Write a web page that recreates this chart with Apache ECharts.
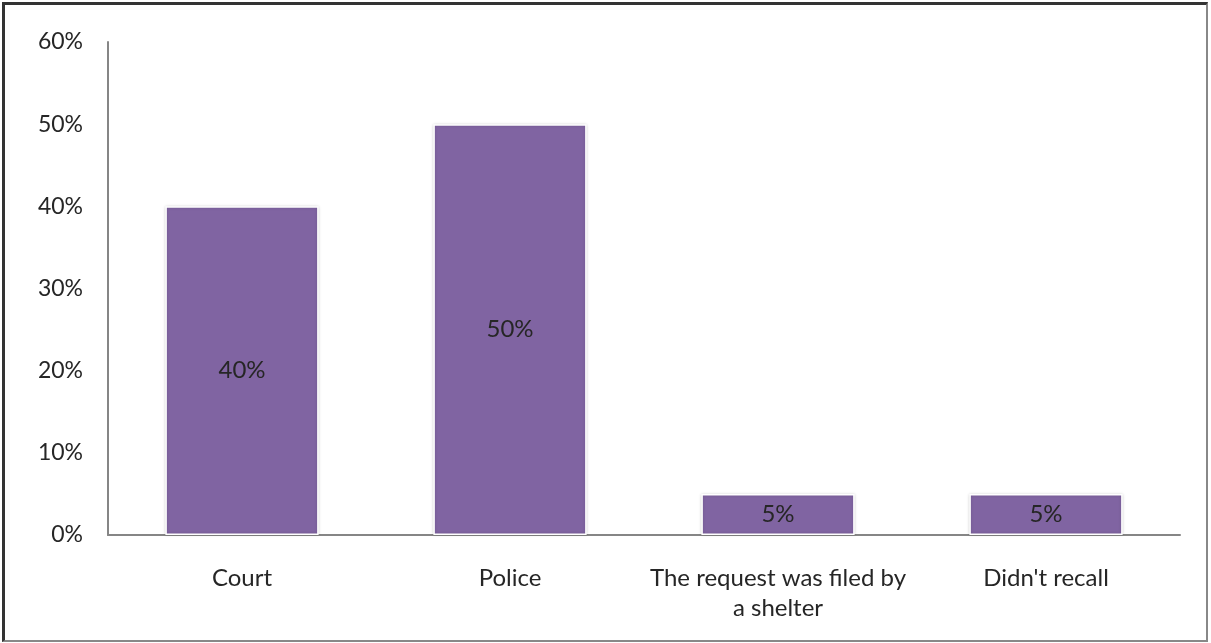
<!DOCTYPE html>
<html><head><meta charset="utf-8">
<script src="https://cdn.jsdelivr.net/npm/echarts@6/dist/echarts.min.js"></script>
<style>
html,body{margin:0;padding:0;background:#fff;}
#frame{position:absolute;left:2px;top:2px;width:1206px;height:640px;box-sizing:border-box;border-top:3px solid #333;border-left:3px solid #333;border-right:2px solid #888;border-bottom:2px solid #888;}
#c{position:absolute;left:0;top:0;width:1211px;height:643px;}
</style></head>
<body>
<div id="frame"></div>
<div id="c"></div>
<script>
const categories = ["Court", "Police", "The request was filed by\na shelter", "Didn't recall"];
const values = [40, 50, 5, 5];
const yTicks = [0, 10, 20, 30, 40, 50, 60];

const chart = echarts.init(document.getElementById('c'), null, {renderer: 'canvas'});
chart.setOption({
  animation: false,
  backgroundColor: 'transparent',
  grid: {left: 108, right: 31, top: 42, bottom: 108},
  xAxis: {
    type: 'category',
    data: categories,
    axisLine: {lineStyle: {color: '#868686', width: 2}},
    axisTick: {show: false},
    axisLabel: {color: '#262626', fontFamily: 'Lato', fontSize: 24, margin: 28, lineHeight: 30, interval: 0}
  },
  yAxis: {
    type: 'value',
    min: yTicks[0], max: yTicks[yTicks.length - 1], interval: 10,
    axisLine: {show: true, lineStyle: {color: '#868686', width: 2}},
    axisTick: {show: false},
    splitLine: {show: false},
    axisLabel: {color: '#262626', fontFamily: 'Lato', fontSize: 23, margin: 25, formatter: '{value}%'}
  },
  series: [{
    type: 'bar',
    data: values,
    barWidth: '57.2%',
    itemStyle: {color: '#8064A2', borderColor: '#fff', borderWidth: 1.5, shadowColor: 'rgba(0,0,0,0.18)', shadowBlur: 3},
    label: {show: true, position: 'inside', color: '#262626', fontFamily: 'Lato', fontSize: 24, formatter: '{c}%'}
  }]
});
</script>
</body></html>
